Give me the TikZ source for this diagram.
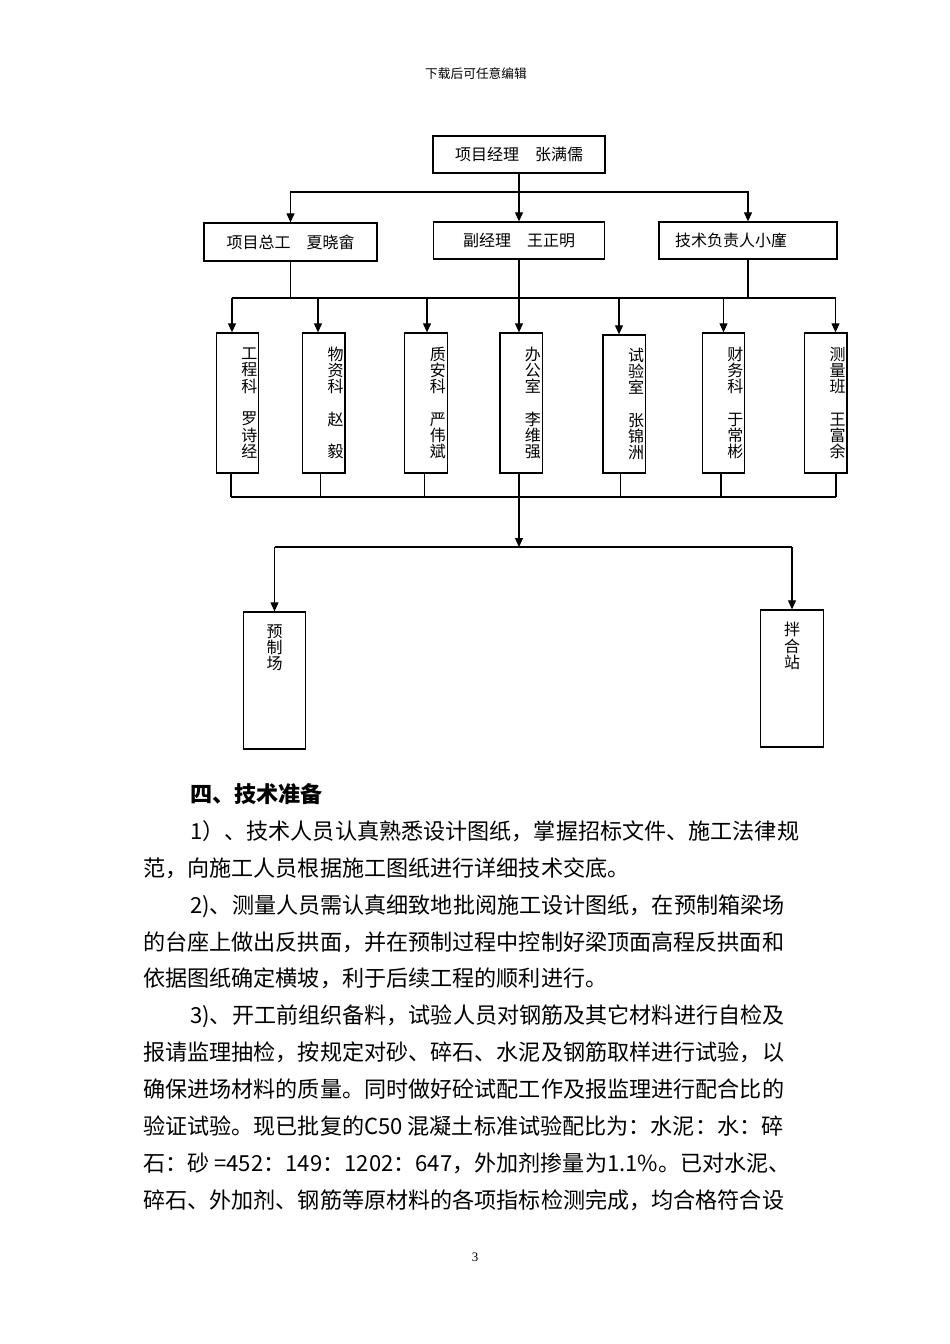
\documentclass[tikz,border=0pt]{standalone}
\usepackage{fontspec}
\setmainfont{Noto Sans CJK SC}
\newfontfamily\numfont{Liberation Serif}
\usetikzlibrary{calc,arrows.meta,positioning}
\tikzset{
    unit/.style={
    rectangle,draw=black,line width=1.3pt,inner sep=0pt,font=\fontsize{16}{16.3}\selectfont
    },
    hunit/.style={
    unit,minimum height=37pt
    },
    vunit/.style={
    unit,minimum width=42.5pt,minimum height=140pt,text width=39.5pt,inner xsep=1.5pt,align=right
    },
    site/.style={
    unit,minimum width=62pt,minimum height=137pt
    },
    vlabel/.style={
    anchor=north,yshift=-13pt,inner sep=0pt,align=center,font=\fontsize{16}{16.3}\selectfont
    },
    link/.style={
    draw=black,line width=1.1pt
    },
    arr/.style={
    link,-{Triangle[length=9pt,width=8pt]}
    },
    textline/.style={
    inner sep=0pt,anchor=base west,font=\fontsize{22.1}{36.9}\selectfont
    },
}

\begin{document}
\begin{tikzpicture}[x=1pt,y=-1pt]
   \path[fill=white,use as bounding box] (0,0) rectangle (950,1344);
   \node[font=\fontsize{12.7}{14}\selectfont] (HDR) at (476,74) {下载后可任意编辑};

   % leaders
   \node[hunit,minimum width=172pt] (PM) at (519,154.5) {项目经理　张满儒};
   \node[hunit,minimum width=173pt,minimum height=38pt] (CE) at (290.5,242) {项目总工　夏晓畲};
   \node[hunit,minimum width=171.5pt] (DM) at (519,240.5) {副经理　王正明};
   \node[hunit,minimum width=178pt,text width=146pt,inner xsep=16pt,align=left] (TD) at (748,240.5) {技术负责人小廑};

   % departments
   \node[vunit] (GCK) at (237.5,403) {工\\程\\科\\　\\罗\\诗\\经};
   \node[vunit] (WZK) at (323.8,403) {物\\资\\科\\　\\赵\\　\\毅};
   \node[vunit] (ZAK) at (426,403) {质\\安\\科\\　\\严\\伟\\斌};
   \node[vunit] (BGS) at (521.2,403) {办\\公\\室\\　\\李\\维\\强};
   \node[vunit,minimum height=138pt] (SYS) at (624.3,404) {试\\验\\室\\　\\张\\锦\\洲};
   \node[vunit] (CWK) at (723.5,403) {财\\务\\科\\　\\于\\常\\彬};
   \node[vunit] (CLB) at (825.8,403) {测\\量\\班\\　\\王\\富\\余};

   % sites
   \node[site,label={[vlabel]north:预\\制\\场}] (YZC) at (274.5,680.5) {};
   \node[site,minimum width=62.5pt,label={[vlabel]north:拌\\合\\站}] (BHZ) at (792,678.5) {};

   % top level
   \coordinate (t0) at (519,192);
   \draw[link] (PM.south) -- (t0);
   \draw[arr] (t0) -| (CE.north);
   \draw[arr] (t0) -- (DM.north);
   \draw[arr] (t0) -| (TD.north);

   % bus to departments
   \coordinate (s1) at (232,298);
   \coordinate (s2) at (318,298);
   \coordinate (s3) at (427,298);
   \coordinate (s4) at (519,298);
   \coordinate (s5) at (619,298);
   \coordinate (s6) at (723.5,298);
   \coordinate (s7) at (835.5,298);
   \draw[link] (CE.south) -- (CE.south |- s1);
   \draw[link] (DM.south) -- (s4);
   \draw[link] (TD.south) -- (TD.south |- s1);
   \draw[link] (s1) -- (s7);
   \draw[arr] (s1) -- (s1 |- GCK.north);
   \draw[arr] (s2) -- (s2 |- WZK.north);
   \draw[arr] (s3) -- (s3 |- ZAK.north);
   \draw[arr] (s4) -- (s4 |- BGS.north);
   \draw[arr] (s5) -- (s5 |- SYS.north);
   \draw[arr] (s6) -- (s6 |- CWK.north);
   \draw[arr] (s7) -- (s7 |- CLB.north);

   % departments to sites
   \coordinate (e1) at (231,497);
   \coordinate (e2) at (320.5,497);
   \coordinate (e3) at (424.5,497);
   \coordinate (e4) at (519,497);
   \coordinate (e5) at (620.5,497);
   \coordinate (e6) at (721,497);
   \coordinate (e7) at (836,497);
   \draw[link] (e1 |- GCK.south) -- (e1);
   \draw[link] (e2 |- WZK.south) -- (e2);
   \draw[link] (e3 |- ZAK.south) -- (e3);
   \draw[link] (e4 |- BGS.south) -- (e4);
   \draw[link] (e5 |- SYS.south) -- (e5);
   \draw[link] (e6 |- CWK.south) -- (e6);
   \draw[link] (e7 |- CLB.south) -- (e7);
   \draw[link] (e1) -- (e7);
   \coordinate (f0) at (519,547);
   \draw[arr] (e4) -- (f0);
   \draw[link] (f0 -| YZC.north) -- (f0 -| BHZ.north);
   \draw[arr] (f0 -| YZC.north) -- (YZC.north);
   \draw[arr] (f0 -| BHZ.north) -- (BHZ.north);

   % text
   \node[textline] (L0) at (190,802.4) {\bfseries 四、技术准备};
   \node[textline] (L1) at (190,839.3) {1）、技术人员认真熟悉设计图纸，掌握招标文件、施工法律规};
   \node[textline] (L2) at (143,876.2) {范，向施工人员根据施工图纸进行详细技术交底。};
   \node[textline] (L3) at (190,913.1) {2)、测量人员需认真细致地批阅施工设计图纸，在预制箱梁场};
   \node[textline] (L4) at (143,950.0) {的台座上做出反拱面，并在预制过程中控制好梁顶面高程反拱面和};
   \node[textline] (L5) at (143,986.9) {依据图纸确定横坡，利于后续工程的顺利进行。};
   \node[textline] (L6) at (190,1023.8) {3)、开工前组织备料，试验人员对钢筋及其它材料进行自检及};
   \node[textline] (L7) at (143,1060.7) {报请监理抽检，按规定对砂、碎石、水泥及钢筋取样进行试验，以};
   \node[textline] (L8) at (143,1097.6) {确保进场材料的质量。同时做好砼试配工作及报监理进行配合比的};
   \node[textline] (L9) at (143,1134.5) {验证试验。现已批复的C50 混凝土标准试验配比为：水泥：水：碎};
   \node[textline] (L10) at (143,1171.4) {石：砂 =452：149：1202：647，外加剂掺量为1.1\%。已对水泥、};
   \node[textline] (L11) at (143,1208.3) {碎石、外加剂、钢筋等原材料的各项指标检测完成，均合格符合设};
   \node[font=\numfont\fontsize{13}{14}\selectfont] (PG) at (475,1257) {3};
\end{tikzpicture}
\end{document}
